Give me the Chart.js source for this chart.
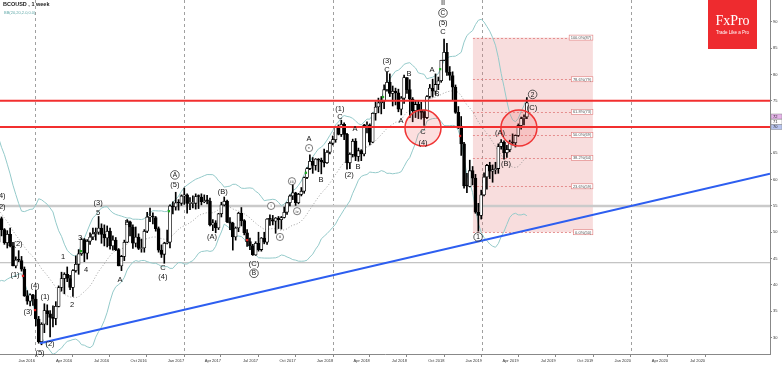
<!DOCTYPE html>
<html>
<head>
<meta charset="utf-8">
<script src="https://cdn.jsdelivr.net/npm/chart.js@4.4.1/dist/chart.umd.min.js"></script>
<style>
  html, body { margin: 0; padding: 0; background: #fff; }
</style>
</head>
<body>
<canvas id="chart" width="782" height="366"></canvas>
<script>
// weekly candles, first one = week of 4 Oct 2015 (x axis unit = weeks since 1 Jan 2016)
const firstWeek = -12.714;

const opens = [
  48.1, 52.6, 50.5, 48.0, 49.6, 47.4, 43.6, 44.7, 44.6, 43.0, 37.9, 36.9, 38.1,
  37.3, 33.5, 29.2, 32.5, 35.1, 34.5, 33.8, 33.6, 35.9, 39.5, 41.2, 42.0, 41.2, 39.5, 42.7, 43.9, 45.9,
  48.6, 46.0, 48.3, 49.1, 49.7, 50.0, 50.8, 49.6, 48.9, 50.2, 47.4, 48.5, 46.7, 43.6, 45.4, 48.1, 52.0,
  51.0, 47.9, 49.1, 46.9, 47.0, 50.2, 52.9, 52.9, 52.8, 50.7, 46.6, 45.8, 47.9, 48.1, 55.0, 54.8, 55.6, 55.5,
  56.9, 57.1, 55.5, 55.5, 55.5, 56.8, 56.7, 55.8, 56.0, 55.9, 51.4, 51.8, 50.8, 53.5, 55.2, 55.9, 52.0,
  51.7, 49.1, 50.8, 53.6, 52.2, 49.9, 48.2, 47.4, 45.7, 47.9, 46.7, 48.9, 48.1, 52.5, 52.4, 52.1, 52.7,
  52.4, 52.8, 53.8, 55.6, 56.9, 57.5, 55.6, 57.2, 57.8, 60.4, 62.1, 63.5, 62.7, 63.9, 63.7, 63.4, 63.2,
  65.2, 66.9, 67.6, 69.9, 68.6, 70.5, 68.6, 63.2, 64.8, 67.3, 64.4, 65.5, 64.9, 70.3, 70.3, 67.1, 72.6,
  73.8, 74.6, 74.9, 77.1, 78.5, 76.4, 76.8, 76.5, 73.4, 75.5, 79.4, 77.1, 75.3, 73.1, 74.3, 73.2, 72.8,
  71.8, 75.8, 77.4, 76.8, 78.1, 78.8, 82.7, 84.2, 80.4, 79.8, 77.6, 72.8, 70.2, 66.8, 58.8, 58.7, 61.7,
  60.3, 53.8, 53.2, 57.1, 60.5, 62.7, 61.6, 61.9, 62.1, 66.3, 67.1, 65.1, 65.7, 67.2, 67.0, 68.4, 70.3,
  71.6, 71.9
];
const highs = [
  53.8, 52.9, 50.7, 50.3, 50.8, 48.1, 45.3, 46.5, 45.4, 43.4, 38.9, 38.3, 38.2,
  39.0, 34.0, 32.8, 36.4, 36.2, 35.1, 36.0, 36.8, 39.8, 42.4, 42.3, 43.4, 41.8, 42.9, 45.5, 46.7, 48.9,
  48.8, 48.6, 49.9, 50.8, 50.8, 53.0, 51.6, 51.4, 51.2, 50.8, 49.3, 49.0, 46.9, 45.6, 48.5, 52.4, 52.1,
  51.4, 51.0, 49.7, 48.7, 50.5, 53.8, 54.6, 53.7, 53.0, 51.0, 47.6, 48.1, 50.4, 55.2, 55.8, 57.6, 56.2, 57.1,
  58.4, 57.3, 56.6, 56.9, 57.3, 57.1, 57.3, 57.1, 57.0, 56.5, 52.4, 52.2, 53.6, 55.7, 56.7, 56.1, 52.8,
  51.9, 51.0, 53.8, 54.7, 52.4, 50.5, 48.9, 47.7, 48.2, 50.0, 49.0, 50.0, 52.6, 53.3, 53.2, 52.8, 53.0,
  53.0, 54.8, 55.7, 57.1, 59.5, 57.6, 57.4, 58.5, 60.5, 62.3, 64.7, 64.2, 64.0, 64.0, 64.1, 65.8, 65.5,
  67.2, 68.3, 70.1, 70.4, 71.3, 70.8, 68.8, 65.1, 67.7, 67.8, 66.0, 65.7, 70.5, 71.0, 70.6, 72.7, 74.8,
  75.5, 75.8, 78.0, 80.5, 80.1, 77.8, 77.4, 77.2, 75.8, 79.9, 79.4, 79.0, 75.6, 74.9, 75.0, 74.7, 73.2,
  76.0, 78.1, 79.1, 80.1, 79.5, 82.7, 86.7, 85.9, 81.5, 80.5, 78.0, 73.9, 72.0, 67.1, 61.2, 63.7, 62.5,
  61.0, 55.5, 58.0, 61.3, 62.9, 63.3, 62.8, 63.3, 66.8, 67.6, 67.4, 66.5, 67.5, 68.7, 68.5, 70.6, 71.9,
  72.3, 75.6
];
const lows = [
  48.0, 49.3, 47.7, 47.0, 47.2, 43.6, 43.2, 44.4, 42.6, 37.8, 36.3, 36.0, 36.1,
  32.2, 28.9, 28.6, 30.9, 32.4, 30.1, 32.0, 32.4, 35.8, 38.8, 38.3, 40.6, 39.1, 37.8, 42.4, 42.0, 45.6,
  44.4, 44.9, 47.7, 48.6, 48.5, 49.6, 47.9, 47.4, 47.2, 46.8, 46.6, 46.5, 43.6, 42.7, 44.6, 48.0, 49.3,
  46.9, 47.2, 46.7, 46.2, 46.2, 49.9, 52.0, 51.6, 50.2, 46.2, 45.2, 44.1, 47.8, 47.0, 53.5, 54.2, 54.2, 55.1,
  55.3, 53.6, 54.3, 54.6, 54.4, 54.5, 55.2, 55.6, 55.4, 51.2, 50.3, 49.9, 50.5, 52.9, 55.0, 51.8, 50.5,
  46.6, 48.5, 50.1, 51.2, 49.5, 47.3, 46.7, 45.6, 45.6, 46.4, 46.4, 47.8, 47.7, 51.3, 51.4, 49.8, 50.7,
  50.6, 52.7, 53.4, 55.0, 56.2, 55.1, 55.4, 56.9, 57.4, 60.2, 61.9, 61.2, 61.8, 61.5, 61.1, 62.4, 63.1,
  64.9, 66.6, 67.1, 68.5, 68.2, 67.6, 62.0, 62.1, 64.3, 63.6, 63.5, 63.6, 64.5, 68.9, 66.6, 67.0, 71.3,
  72.7, 72.5, 73.5, 76.8, 75.8, 74.0, 74.2, 72.9, 72.3, 74.5, 76.4, 71.8, 71.0, 71.8, 71.6, 71.5, 70.3,
  71.6, 75.5, 75.7, 76.2, 77.1, 78.5, 82.6, 79.8, 78.9, 75.1, 72.6, 69.7, 64.6, 58.4, 57.5, 58.6, 59.0,
  53.6, 50.2, 52.5, 56.9, 58.2, 60.2, 59.5, 61.1, 61.2, 65.8, 63.9, 64.2, 65.3, 66.6, 66.2, 68.2, 69.6,
  70.4, 71.6
];
const closes = [
  52.6, 50.5, 48.0, 49.6, 47.4, 43.6, 44.7, 44.6, 43.0, 37.9, 36.9, 38.1, 37.3,
  33.5, 29.2, 32.5, 35.1, 34.5, 33.8, 33.6, 35.9, 39.5, 41.2, 42.0, 41.2, 39.5, 42.7, 43.9, 45.9, 48.6,
  46.0, 48.3, 49.1, 49.7, 50.0, 50.8, 49.6, 48.9, 50.2, 47.4, 48.5, 46.7, 43.6, 45.4, 48.1, 52.0, 51.0,
  47.9, 49.1, 46.9, 47.0, 50.2, 52.9, 52.9, 52.8, 50.7, 46.6, 45.8, 47.9, 48.1, 55.0, 54.8, 55.6, 55.5, 56.9,
  57.1, 55.5, 55.5, 55.5, 56.8, 56.7, 55.8, 56.0, 55.9, 51.4, 51.8, 50.8, 53.5, 55.2, 55.9, 52.0, 51.7,
  49.1, 50.8, 53.6, 52.2, 49.9, 48.2, 47.4, 45.7, 47.9, 46.7, 48.9, 48.1, 52.5, 52.4, 52.1, 52.7, 52.4,
  52.8, 53.8, 55.6, 56.9, 57.5, 55.6, 57.2, 57.8, 60.4, 62.1, 63.5, 62.7, 63.9, 63.7, 63.4, 63.2, 65.2,
  66.9, 67.6, 69.9, 68.6, 70.5, 68.6, 63.2, 64.8, 67.3, 64.4, 65.5, 64.9, 70.3, 70.3, 67.1, 72.6, 73.8,
  74.6, 74.9, 77.1, 78.5, 76.4, 76.8, 76.5, 73.4, 75.5, 79.4, 77.1, 75.3, 73.1, 74.3, 73.2, 72.8, 71.8,
  75.8, 77.4, 76.8, 78.1, 78.8, 82.7, 84.2, 80.4, 79.8, 77.6, 72.8, 70.2, 66.8, 58.8, 58.7, 61.7, 60.3,
  53.8, 53.2, 57.1, 60.5, 62.7, 61.6, 61.9, 62.1, 66.3, 67.1, 65.1, 65.7, 67.2, 67.0, 68.4, 70.3, 71.6,
  71.9, 74.6
];
// weekly closes May-Sep 2015, only used to start the Bollinger bands
const warmupCloses = [65.6, 63.3, 63.9, 63.0, 63.3, 60.3, 58.7, 57.1, 54.6, 52.2, 48.6, 49.2, 45.5, 45.1, 49.6, 48.1, 47.5, 48.6, 48.1];

const xTickLabels = ['Jan 2016', 'Apr 2016', 'Jul 2016', 'Oct 2016', 'Jan 2017', 'Apr 2017', 'Jul 2017', 'Oct 2017',
  'Jan 2018', 'Apr 2018', 'Jul 2018', 'Oct 2018', 'Jan 2019', 'Apr 2019', 'Jul 2019', 'Oct 2019',
  'Jan 2020', 'Apr 2020', 'Jul 2020'];
const yTickValues = [30, 35, 40, 45, 50, 55, 60, 65, 70, 75, 80, 85, 90];

const redLevels = [75.0, 70.0];
const grayLevels = [55.0, 44.2];
const trendLine = [{ x: 1.75, y: 28.9 }, { x: 257.45, y: 61.1 }];
const fibLow = 50, fibHigh = 87;
const fibRatios = [0, 23.6, 38.2, 50, 61.8, 78.6, 100];
const fibFrom = 153.4, fibTo = 195.4;
const circleSpots = [{ x: 135.9, y: 69.8 }, { x: 169.5, y: 69.8 }];

// wave count labels: [week, price, text, kind]  kind: p plain, c circled, r small circled roman
const waveLabels = [
  [-11.9, 56.9, '(4)', 'p'], [-11.9, 54.8, '(2)', 'p'],
  [-5.95, 47.9, '(2)', 'p'], [-7.0, 41.9, '(1)', 'p'], [0, 39.8, '(4)', 'p'], [-2.45, 35.0, '(3)', 'p'],
  [3.5, 37.7, '(1)', 'p'], [5.25, 28.9, '(2)', 'p'], [1.75, 27.1, '(5)', 'p'],
  [9.8, 45.3, '1', 'p'], [13.0, 36.2, '2', 'p'], [15.8, 48.9, '3', 'p'], [17.9, 43.0, '4', 'p'],
  [22.1, 53.8, '5', 'p'], [22.1, 55.7, '(3)', 'p'], [29.8, 41.1, 'A', 'p'], [32.2, 51.9, 'B', 'p'],
  [44.8, 43.2, 'C', 'p'], [44.8, 41.5, '(4)', 'p'], [49.0, 60.9, 'A', 'c'], [49.0, 59.0, '(5)', 'p'],
  [62.0, 49.1, '(A)', 'p'], [65.8, 57.8, '(B)', 'p'], [76.7, 44.1, '(C)', 'p'], [76.7, 42.2, 'B', 'c'],
  [82.7, 55.0, 'i', 'r'], [85.8, 49.1, 'ii', 'r'], [90.0, 59.7, 'iii', 'r'], [91.8, 54.0, 'iv', 'r'],
  [96.0, 66.0, 'v', 'r'], [96.0, 67.9, 'A', 'p'], [100.2, 60.1, 'B', 'p'],
  [106.8, 73.6, '(1)', 'p'], [106.8, 71.9, 'C', 'p'], [110.0, 60.9, '(2)', 'p'], [112.1, 69.8, 'A', 'p'],
  [113.1, 62.4, 'B', 'p'], [123.3, 82.7, '(3)', 'p'], [123.3, 81.0, 'C', 'p'], [128.2, 71.3, 'A', 'p'],
  [131.0, 80.1, 'B', 'p'], [135.9, 69.2, 'C', 'p'], [135.9, 67.0, '(4)', 'p'], [139.1, 81.0, 'A', 'p'],
  [140.8, 76.3, 'B', 'p'], [142.9, 93.7, 'II', 'p'], [142.9, 91.7, 'C', 'c'], [142.9, 89.8, '(5)', 'p'],
  [142.9, 88.1, 'C', 'p'], [155.2, 49.1, '1', 'c'], [162.9, 68.9, '(A)', 'p'], [165.0, 63.0, '(B)', 'p'],
  [174.3, 76.2, '2', 'c'], [174.1, 73.8, '(C)', 'p']
];
const signalMarks = [
  [-4.2, 41.7, '#d22'], [0, 35.2, '#d22'], [16.1, 46.4, '#2a2'], [46.9, 54.0, '#2a2'], [74.3, 48.5, '#d22'],
  [94.9, 61.3, '#2a2'], [121.9, 75.7, '#2a2'], [141.9, 81.0, '#2a2'], [148.9, 68.3, '#d22']
];

// Bollinger bands (20, 2) from the weekly closes
function bands(series, n, k) {
  const up = [], mid = [], lo = [];
  for (let i = n - 1; i < series.length; i++) {
    const win = series.slice(i - n + 1, i + 1);
    const m = win.reduce((a, b) => a + b, 0) / n;
    const sd = Math.sqrt(win.reduce((a, b) => a + (b - m) * (b - m), 0) / n);
    up.push(m + k * sd); mid.push(m); lo.push(m - k * sd);
  }
  return { up, mid, lo };
}
const bb = bands(warmupCloses.concat(closes), 20, 2);
const wx = i => firstWeek + i;

const wicks = closes.map((c, i) => ({ x: wx(i), y: [lows[i], highs[i]] }));
const bodies = closes.map((c, i) => ({ x: wx(i), y: [opens[i], Math.abs(c - opens[i]) < 0.15 ? opens[i] + 0.15 : c] }));
const bodyFill = closes.map((c, i) => c >= opens[i] ? '#ffffff' : '#000000');

const monthIdx = { Jan: 0, Apr: 3, Jul: 6, Oct: 9 };
const xTickPos = xTickLabels.map(l => {
  const [m, y] = l.split(' ');
  return (Date.UTC(+y, monthIdx[m], 1) - Date.UTC(2016, 0, 1)) / (7 * 864e5);
});

const overlay = {
  id: 'overlay',
  beforeDatasetsDraw(chart) {
    const { ctx, chartArea: a, scales: { x, y } } = chart;
    ctx.save();
    // year separators
    ctx.strokeStyle = '#a0a0a0'; ctx.lineWidth = 1; ctx.setLineDash([3, 3]);
    xTickLabels.forEach((l, i) => {
      if (!l.startsWith('Jan')) return;
      const px = Math.round(x.getPixelForValue(xTickPos[i])) + 0.5;
      ctx.beginPath(); ctx.moveTo(px, a.top); ctx.lineTo(px, a.bottom); ctx.stroke();
    });
    ctx.setLineDash([]);
    // fibonacci box
    const x1 = x.getPixelForValue(fibFrom), x2 = x.getPixelForValue(fibTo);
    const yTop = y.getPixelForValue(fibHigh), yBot = y.getPixelForValue(fibLow);
    ctx.fillStyle = 'rgba(230,130,130,0.27)';
    ctx.fillRect(x1, yTop, x2 - x1, yBot - yTop);
    ctx.strokeStyle = '#e07a7a'; ctx.lineWidth = 0.8; ctx.setLineDash([2, 2]);
    fibRatios.forEach(r => {
      const py = Math.round(y.getPixelForValue(fibLow + (fibHigh - fibLow) * r / 100)) + 0.5;
      ctx.beginPath(); ctx.moveTo(x1, py); ctx.lineTo(x2, py); ctx.stroke();
    });
    ctx.setLineDash([]);
    // gray levels
    grayLevels.forEach((v, i) => {
      ctx.strokeStyle = i === 0 ? '#cacaca' : '#b4b4b4';
      ctx.lineWidth = i === 0 ? 2.5 : 1;
      const py = y.getPixelForValue(v);
      ctx.beginPath(); ctx.moveTo(a.left, py); ctx.lineTo(a.right, py); ctx.stroke();
    });
    ctx.restore();
  },
  afterDatasetsDraw(chart) {
    const { ctx, chartArea: a, scales: { x, y } } = chart;
    ctx.save();
    // red levels
    ctx.strokeStyle = '#f22f2f'; ctx.lineWidth = 2;
    redLevels.forEach(v => {
      const py = y.getPixelForValue(v);
      ctx.beginPath(); ctx.moveTo(a.left, py); ctx.lineTo(a.right, py); ctx.stroke();
    });
    // circles
    circleSpots.forEach(c => {
      ctx.beginPath();
      ctx.arc(x.getPixelForValue(c.x), y.getPixelForValue(c.y), 18, 0, Math.PI * 2);
      ctx.fillStyle = 'rgba(240,80,80,0.18)'; ctx.fill();
      ctx.strokeStyle = '#f03535'; ctx.lineWidth = 1.5; ctx.stroke();
    });
    // fib labels
    const x2 = x.getPixelForValue(fibTo);
    ctx.font = '4px "Liberation Sans"'; ctx.textAlign = 'right'; ctx.textBaseline = 'middle';
    fibRatios.forEach(r => {
      const v = fibLow + (fibHigh - fibLow) * r / 100;
      const py = y.getPixelForValue(v);
      const t = r.toFixed(1) + '%(' + Math.round(v) + ')';
      const w = ctx.measureText(t).width + 3;
      ctx.fillStyle = '#fff'; ctx.fillRect(x2 - w, py - 2.5, w, 5);
      ctx.strokeStyle = '#e07a7a'; ctx.lineWidth = 0.6; ctx.strokeRect(x2 - w, py - 2.5, w, 5);
      ctx.fillStyle = '#555'; ctx.fillText(t, x2 - 1.5, py + 0.2);
    });
    // wave labels
    ctx.textAlign = 'center'; ctx.textBaseline = 'middle';
    waveLabels.forEach(([wk, p, t, k]) => {
      const px = x.getPixelForValue(wk), py = y.getPixelForValue(p);
      if (k === 'r') {
        ctx.fillStyle = '#fff'; ctx.strokeStyle = '#444'; ctx.lineWidth = 0.7;
        ctx.beginPath(); ctx.arc(px, py, 3.6, 0, Math.PI * 2); ctx.fill(); ctx.stroke();
        ctx.fillStyle = '#222'; ctx.font = '4px "Liberation Serif"';
        ctx.fillText(t, px, py + 0.3);
      } else if (k === 'c') {
        ctx.strokeStyle = '#333'; ctx.lineWidth = 0.8;
        ctx.beginPath(); ctx.arc(px, py, 4.3, 0, Math.PI * 2); ctx.stroke();
        ctx.fillStyle = '#111'; ctx.font = '6.5px "Liberation Sans"';
        ctx.fillText(t, px, py + 0.4);
      } else {
        ctx.fillStyle = '#111'; ctx.font = '7.5px "Liberation Sans"';
        ctx.fillText(t, px, py + 0.4);
      }
    });
    // header texts
    ctx.textAlign = 'left'; ctx.textBaseline = 'top';
    ctx.fillStyle = '#222'; ctx.font = 'bold 5.5px "Liberation Sans"';
    ctx.fillText('BCOUSD , 1 week', 3, 2);
    ctx.fillStyle = '#5fa8a8'; ctx.font = '4px "Liberation Sans"';
    ctx.fillText('BB(20,20,2.0,0.0)', 4, 11);
    // logo
    ctx.fillStyle = '#ee2b2f'; ctx.fillRect(708, 0, 49, 49);
    ctx.fillStyle = '#fff'; ctx.textAlign = 'center';
    ctx.font = '14px "Liberation Serif"'; ctx.fillText('FxPro', 732.5, 14);
    ctx.font = '4.5px "Liberation Sans"'; ctx.fillText('Trade Like a Pro', 732.5, 31);
    ctx.restore();
  },
  afterDraw(chart) {
    const { ctx, chartArea: a, scales: { y } } = chart;
    ctx.save();
    ctx.font = '4px "Liberation Sans"'; ctx.textAlign = 'left'; ctx.textBaseline = 'middle';
    [[72, '#e6b3ea'], [71, '#ffffff'], [70, '#b7c3ee']].forEach(([v, c]) => {
      const py = y.getPixelForValue(v);
      ctx.fillStyle = c; ctx.fillRect(a.right + 1, py - 2.5, 11, 5);
      ctx.strokeStyle = '#888'; ctx.lineWidth = 0.5; ctx.strokeRect(a.right + 1, py - 2.5, 11, 5);
      ctx.fillStyle = '#222'; ctx.fillText(String(v), a.right + 3, py + 0.2);
    });
    ctx.restore();
  }
};

new Chart(document.getElementById('chart'), {
  type: 'bar',
  data: {
    datasets: [
      { type: 'scatter', data: signalMarks.map(s => ({ x: s[0], y: s[1] })), pointStyle: 'rect', pointRadius: 1.6,
        pointBackgroundColor: signalMarks.map(s => s[2]), pointBorderWidth: 0, order: 0 },
      { type: 'line', data: trendLine, borderColor: '#2d5ef0', borderWidth: 2, pointRadius: 0, order: 1 },
      { data: bodies, backgroundColor: bodyFill, borderColor: '#000', borderWidth: 0.8, borderSkipped: false,
        barThickness: 3, grouped: false, order: 2 },
      { data: wicks, backgroundColor: '#000', borderWidth: 0, barThickness: 1, grouped: false, order: 3 },
      { type: 'line', data: bb.up.map((v, i) => ({ x: wx(i), y: v })), borderColor: '#94caca', borderWidth: 1, pointRadius: 0, order: 4 },
      { type: 'line', data: bb.lo.map((v, i) => ({ x: wx(i), y: v })), borderColor: '#94caca', borderWidth: 1, pointRadius: 0, order: 4 },
      { type: 'line', data: bb.mid.map((v, i) => ({ x: wx(i), y: v })), borderColor: '#8a8a8a', borderWidth: 0.8, borderDash: [1, 2], pointRadius: 0, order: 4 }
    ]
  },
  options: {
    responsive: false,
    animation: false,
    events: [],
    layout: { padding: 0, autoPadding: false },
    plugins: { legend: { display: false }, tooltip: { enabled: false } },
    scales: {
      x: {
        type: 'linear', min: -12.26, max: 257.45, offset: false,
        afterFit(s) { s.height = 12; s.paddingLeft = 0; s.paddingRight = 0; },
        afterBuildTicks(s) { s.ticks = xTickPos.map(v => ({ value: v })); },
        ticks: {
          autoSkip: false, maxRotation: 0, align: 'end', padding: 1,
          font: { size: 4, family: 'Liberation Sans' }, color: '#333',
          callback: (v, i) => xTickLabels[i]
        },
        grid: { drawOnChartArea: false, offset: false, tickLength: 3, color: '#888' },
        border: { color: '#888' }
      },
      y: {
        position: 'right', min: 26.85, max: 94.15,
        afterFit(s) { s.width = 12; s.paddingTop = 0; s.paddingBottom = 0; },
        afterBuildTicks(s) { s.ticks = yTickValues.map(v => ({ value: v })); },
        ticks: { padding: 1, font: { size: 4, family: 'Liberation Sans' }, color: '#333' },
        grid: { drawOnChartArea: false, tickLength: 2, color: '#888' },
        border: { color: '#888' }
      }
    }
  },
  plugins: [overlay]
});
</script>
</body>
</html>
